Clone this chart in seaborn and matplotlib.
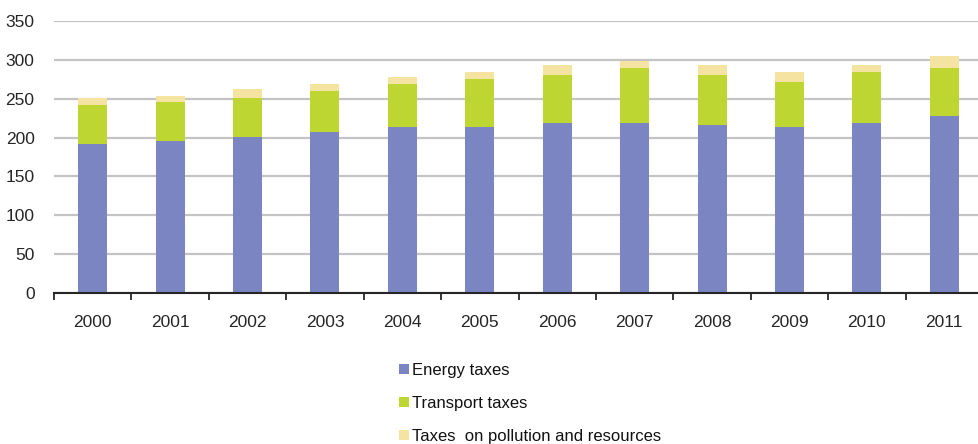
import matplotlib
matplotlib.use("Agg")
import matplotlib.pyplot as plt
from matplotlib.patches import Patch
from matplotlib.ticker import FixedLocator
import numpy as np
import pandas as pd
import seaborn as sns

years = ["2000", "2001", "2002", "2003", "2004", "2005",
         "2006", "2007", "2008", "2009", "2010", "2011"]
energy = [192, 195, 201, 207, 213, 213, 219, 219, 216, 213, 219, 228]
transport = [50, 51, 50, 53, 56, 62, 62, 70, 65, 59, 65, 61]
pollution = [9, 8, 12, 9, 9, 9, 12, 9, 12, 12, 9, 16]

series_names = ["Energy taxes", "Transport taxes", "Taxes  on pollution and resources"]
colors = ["#7b85c1", "#bdd631", "#f5e4a1"]

sns.set_theme(style="white")
plt.rcParams["font.family"] = ["Liberation Sans", "DejaVu Sans"]

df = pd.DataFrame({
    "year": years,
    "energy": energy,
    "transport": transport,
    "pollution": pollution,
})
df["lvl1"] = df["energy"]
df["lvl2"] = df["energy"] + df["transport"]
df["lvl3"] = df["lvl2"] + df["pollution"]

fig = plt.figure(figsize=(9.79, 4.44), dpi=100)
ax = fig.add_axes([54 / 979, 1 - 293 / 444, 929 / 979, 272 / 444])

# stacked bars drawn as overlapping cumulative totals, tallest first
for col, c in zip(["lvl3", "lvl2", "lvl1"], colors[::-1]):
    sns.barplot(data=df, x="year", y=col, color=c, width=0.375,
                saturation=1, ax=ax, edgecolor="none", linewidth=0, zorder=3)

ax.set_xlim(-0.5, len(years) - 0.5)
ax.set_ylim(0, 350)
ax.set_yticks(np.arange(0, 351, 50))
ax.set_xlabel("")
ax.set_ylabel("")

ax.grid(axis="y", color="#c4c4c4", linewidth=1.6, zorder=0)
ax.grid(axis="x", visible=False)
for s in ["top", "right", "left"]:
    ax.spines[s].set_visible(False)
ax.spines["bottom"].set_color("#262626")
ax.spines["bottom"].set_linewidth(1.5)
ax.spines["bottom"].set_zorder(5)

ax.tick_params(axis="y", length=0, pad=14, labelsize=12.5, labelcolor="#262626")
ax.tick_params(axis="x", which="major", length=0, pad=15.5, labelsize=12.5,
               labelcolor="#262626")
ax.xaxis.set_minor_locator(FixedLocator(np.arange(-0.5, len(years), 1.0)))
ax.tick_params(axis="x", which="minor", length=5, width=1.3, color="#262626",
               direction="out", bottom=True)

handles = [Patch(facecolor=c, edgecolor="none", label=n)
           for c, n in zip(colors, series_names)]
fig.legend(handles=handles, loc="upper left",
           bbox_to_anchor=(399 / 979, 1 - 363 / 444),
           frameon=False, fontsize=12, handlelength=0.6, handleheight=0.6,
           handletextpad=0.2, labelspacing=1.07, borderaxespad=0,
           borderpad=0, labelcolor="#111111")

fig.savefig("out.png", dpi=100)
